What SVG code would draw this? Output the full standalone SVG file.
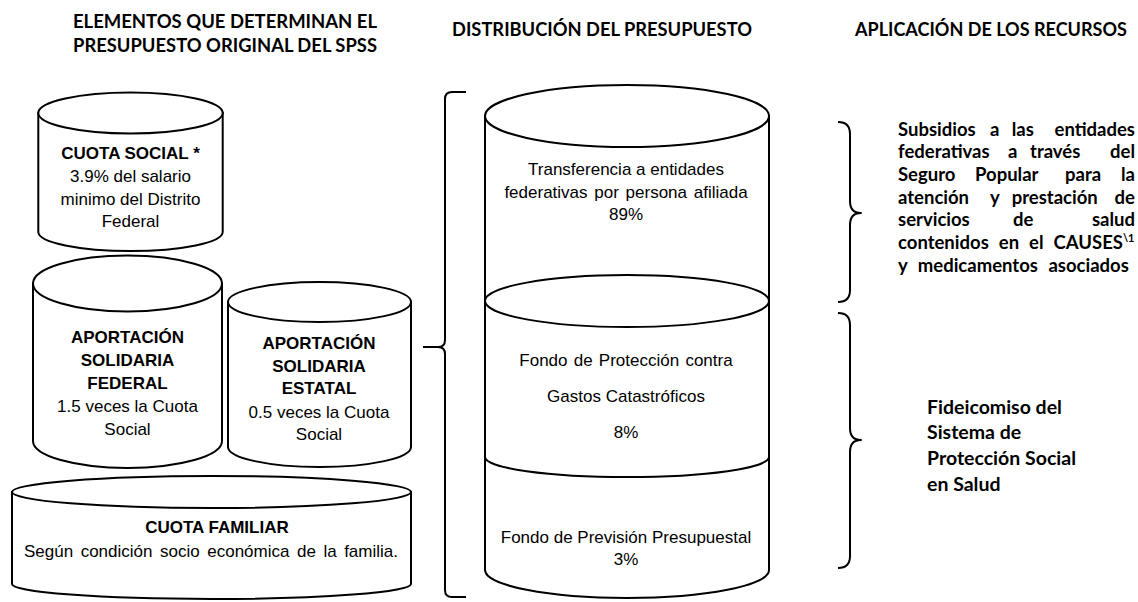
<svg xmlns="http://www.w3.org/2000/svg" width="1138" height="602" viewBox="0 0 1138 602">
<style>
.cyl{fill:#fff;stroke:#000;stroke-width:2}
.br{fill:none;stroke:#000;stroke-width:2;stroke-linejoin:round}
.h{font-family:Lato,"Liberation Sans",sans-serif;font-weight:700;font-size:18.5px;fill:#000;text-anchor:middle}
.t{font-family:"Liberation Sans",Arial,sans-serif;font-size:17px;fill:#000;text-anchor:middle}
.b{font-weight:700}
.r{font-family:Lato,"Liberation Sans",sans-serif;font-weight:700;font-size:18.5px;fill:#000}
.r2{font-family:Lato,"Liberation Sans",sans-serif;font-weight:700;font-size:19.5px;fill:#000}
</style>
<rect width="1138" height="602" fill="#fff"/>
<g id="headers">
<text class="h" x="225" y="28" textLength="304" lengthAdjust="spacingAndGlyphs">ELEMENTOS QUE DETERMINAN EL</text>
<text class="h" x="225" y="52" textLength="304" lengthAdjust="spacingAndGlyphs">PRESUPUESTO ORIGINAL DEL SPSS</text>
<text class="h" x="602" y="36" textLength="300" lengthAdjust="spacingAndGlyphs">DISTRIBUCIÓN DEL PRESUPUESTO</text>
<text class="h" x="991" y="36" textLength="272" lengthAdjust="spacingAndGlyphs">APLICACIÓN DE LOS RECURSOS</text>
</g>
<g id="cuota-social">
<path class="cyl" d="M38.3,113 L38.3,232 A92.2,19 0 0 0 222.7,232 L222.7,113 Z"/>
<ellipse class="cyl" cx="130.5" cy="113" rx="92.2" ry="20.5"/>
<text class="t b" x="130.5" y="159.3">CUOTA SOCIAL *</text>
<text class="t" x="130.5" y="182">3.9% del salario</text>
<text class="t" x="130.5" y="204.5">minimo del Distrito</text>
<text class="t" x="130.5" y="227">Federal</text>
</g>
<g id="aportacion-federal">
<path class="cyl" d="M33,283.5 L33,441 A94.5,27 0 0 0 222,441 L222,283.5 Z"/>
<ellipse class="cyl" cx="127.5" cy="283.5" rx="94.5" ry="28"/>
<text class="t b" x="127.5" y="343">APORTACIÓN</text>
<text class="t b" x="127.5" y="366">SOLIDARIA</text>
<text class="t b" x="127.5" y="389">FEDERAL</text>
<text class="t" x="127.5" y="412">1.5 veces la Cuota</text>
<text class="t" x="127.5" y="435">Social</text>
</g>
<g id="aportacion-estatal">
<path class="cyl" d="M228,302 L228,447 A91.5,20 0 0 0 411,447 L411,302 Z"/>
<ellipse class="cyl" cx="319.5" cy="302" rx="91.5" ry="20"/>
<text class="t b" x="319" y="349">APORTACIÓN</text>
<text class="t b" x="319" y="371.5">SOLIDARIA</text>
<text class="t b" x="319" y="394">ESTATAL</text>
<text class="t" x="319" y="417.5">0.5 veces la Cuota</text>
<text class="t" x="319" y="440">Social</text>
</g>
<g id="cuota-familiar">
<path class="cyl" d="M12,492 L12,584 A199.5,15 0 0 0 411,584 L411,492 Z"/>
<ellipse class="cyl" cx="211.5" cy="492" rx="199.5" ry="16"/>
<text class="t b" x="217" y="533">CUOTA FAMILIAR</text>
<text class="t" x="211" y="557" word-spacing="2.8">Según condición socio económica de la familia.</text>
</g>
<g id="transferencia">
<path class="cyl" d="M485,116 L485,301 A142,26 0 0 0 769,301 L769,116 Z"/>
<ellipse class="cyl" cx="627" cy="116" rx="142" ry="31"/>
<text class="t" x="626" y="175">Transferencia a entidades</text>
<text class="t" x="626" y="197.7" word-spacing="2">federativas por persona afiliada</text>
<text class="t" x="626" y="219.5">89%</text>
</g>
<g id="fondo-prevision">
<path class="cyl" d="M485,440 L485,570 A142,28 0 0 0 769,570 L769,440 Z"/>
<text class="t" x="626" y="543">Fondo de Previsión Presupuestal</text>
<text class="t" x="626" y="565">3%</text>
</g>
<g id="fondo-proteccion">
<path class="cyl" d="M485,301 L485,457 A142,20 0 0 0 769,457 L769,301 Z"/>
<ellipse class="cyl" cx="627" cy="301" rx="142" ry="26"/>
<text class="t" x="626" y="366" word-spacing="1.5">Fondo de Protección contra</text>
<text class="t" x="626" y="402">Gastos Catastróficos</text>
<text class="t" x="626" y="438">8%</text>
</g>
<g id="subsidios">
<text class="r" y="135.7"><tspan x="898">Subsidios</tspan> <tspan x="990">a</tspan> <tspan x="1011.7">las</tspan> <tspan x="1135" text-anchor="end">entidades</tspan></text>
<text class="r" y="158.3"><tspan x="898">federativas</tspan> <tspan x="1008">a</tspan> <tspan x="1030">través</tspan> <tspan x="1135" text-anchor="end">del</tspan></text>
<text class="r" y="181"><tspan x="898">Seguro</tspan> <tspan x="975">Popular</tspan> <tspan x="1065">para</tspan> <tspan x="1135" text-anchor="end">la</tspan></text>
<text class="r" y="203.7"><tspan x="898">atención</tspan> <tspan x="990">y</tspan> <tspan x="1011.7">prestación</tspan> <tspan x="1135" text-anchor="end">de</tspan></text>
<text class="r" y="226.3"><tspan x="898">servicios</tspan> <tspan x="1013">de</tspan> <tspan x="1135" text-anchor="end">salud</tspan></text>
<text class="r" x="898" y="249" word-spacing="5.5">contenidos en el CAUSES<tspan dy="-7" font-size="11">\1</tspan></text>
<text class="r" x="898" y="271.7" word-spacing="6">y medicamentos asociados</text>
</g>
<g id="fideicomiso">
<text class="r2" x="927" y="413.5">Fideicomiso del</text>
<text class="r2" x="927" y="439">Sistema de</text>
<text class="r2" x="927" y="465">Protección Social</text>
<text class="r2" x="927" y="490.5">en Salud</text>
</g>
<g id="connectors">
<path class="br" d="M466,92 L452,92 Q445,92 445,99 L445,340 Q445,347 438,347 L423,347 M438,347 Q445,347 445,354 L445,590 Q445,597 452,597 L466,597"/>
<path class="br" stroke-width="1.8" d="M838,122 Q850,122 850,134 L850,201 Q850,213 861,213 Q850,213 850,225 L850,290 Q850,302 838,302"/>
<path class="br" stroke-width="1.8" d="M838,313 Q850,313 850,325 L850,428 Q850,440 861,440 Q850,440 850,452 L850,556 Q850,568 838,568"/>
</g>
</svg>
